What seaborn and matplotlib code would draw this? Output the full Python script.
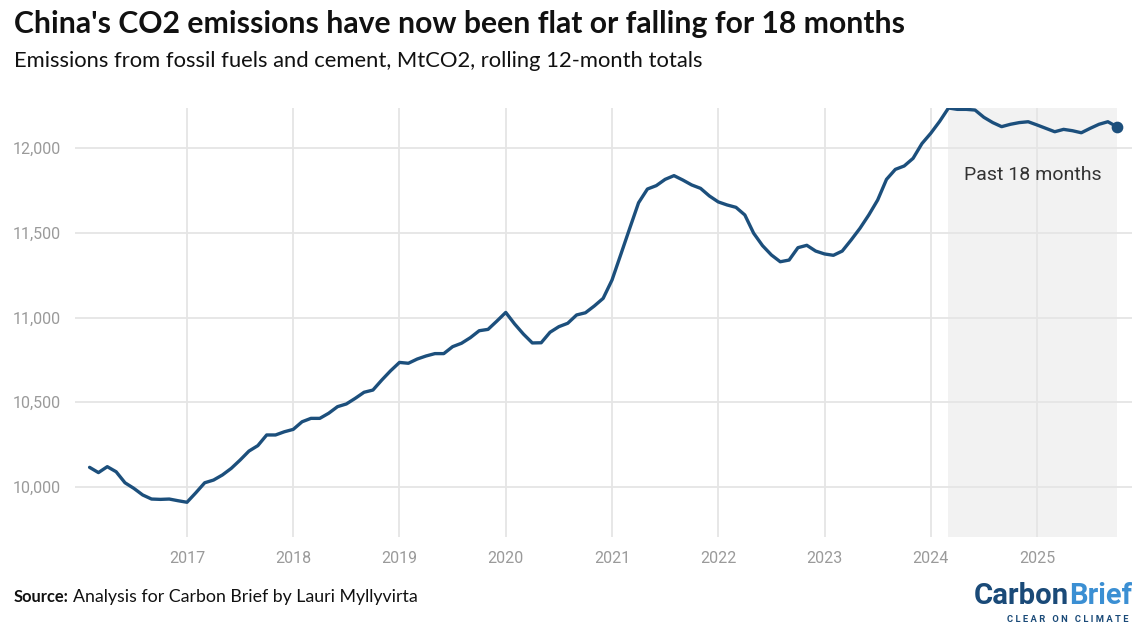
import numpy as np
import pandas as pd
import matplotlib
matplotlib.use("Agg")
import matplotlib.pyplot as plt
import seaborn as sns

# ---- data ----
start_month = "2016-02"
emissions = [
    # 2016 (Feb-Dec)
    10116, 10085, 10120, 10090, 10025, 9992, 9953, 9929, 9927, 9929, 9919,
    # 2017
    9910, 9966, 10025, 10041, 10071, 10110, 10159, 10212, 10244, 10307, 10307, 10326,
    # 2018
    10340, 10385, 10405, 10405, 10435, 10474, 10490, 10523, 10559, 10572, 10631, 10686,
    # 2019
    10735, 10730, 10755, 10773, 10787, 10787, 10828, 10848, 10881, 10922, 10930, 10979,
    # 2020
    11030, 10962, 10902, 10850, 10851, 10913, 10946, 10966, 11015, 11028, 11068, 11113,
    # 2021
    11221, 11373, 11526, 11677, 11758, 11778, 11815, 11837, 11811, 11782, 11762, 11717,
    # 2022
    11682, 11664, 11650, 11605, 11497, 11424, 11369, 11329, 11339, 11412, 11426, 11392,
    # 2023
    11375, 11367, 11392, 11457, 11526, 11605, 11693, 11815, 11874, 11894, 11939, 12026,
    # 2024
    12087, 12157, 12236, 12228, 12228, 12224, 12181, 12150, 12126, 12140, 12150, 12155,
    # 2025 (Jan-Oct)
    12136, 12116, 12096, 12110, 12102, 12090, 12116, 12140, 12155, 12126,
]
x_ticks = [2017, 2018, 2019, 2020, 2021, 2022, 2023, 2024, 2025]
y_ticks = [10000, 10500, 11000, 11500, 12000]
shade_start = "2024-03"
shade_end = "2025-10"
shade_label = "Past 18 months"

title = "China's CO2 emissions have now been flat or falling for 18 months"
subtitle = "Emissions from fossil fuels and cement, MtCO2, rolling 12-month totals"

# ---- frame ----
dates = pd.date_range(start_month, periods=len(emissions), freq="MS")
def dec_year(d):
    return d.year + (d.month - 1) / 12.0
df = pd.DataFrame({"t": [dec_year(d) for d in dates], "v": emissions})
s0 = dec_year(pd.Timestamp(shade_start))
s1 = dec_year(pd.Timestamp(shade_end))

sns.set_theme(style="white")
plt.rcParams["font.family"] = ["Roboto", "DejaVu Sans"]

W, H = 1143, 632
fig = plt.figure(figsize=(W / 100, H / 100), dpi=100)
ax = fig.add_axes([0.0656, 0.1503, 0.9248, 0.6788])

line_color = "#1c4f7c"
ax.axvspan(s0, s1, color="#f2f2f2", zorder=0, lw=0)
sns.lineplot(data=df, x="t", y="v", ax=ax, color=line_color, linewidth=2.4, zorder=3)
ax.scatter([df["t"].iloc[-1]], [df["v"].iloc[-1]], s=55, color=line_color, zorder=4)

ax.set_xlim(2015.946, 2025.894)
ax.set_ylim(9705, 12236)
ax.set_xticks(x_ticks)
ax.set_xticklabels([str(x) for x in x_ticks])
ax.set_yticks(y_ticks)
ax.set_yticklabels([f"{y:,}" for y in y_ticks])
ax.grid(True, color="#e5e5e5", linewidth=1.3, zorder=1)
ax.set_axisbelow(True)
for sp in ax.spines.values():
    sp.set_visible(False)
ax.tick_params(axis="both", length=0, labelsize=11.5, labelcolor="#9a9a9a")
ax.tick_params(axis="x", pad=10)
ax.tick_params(axis="y", pad=10)
ax.set_xlabel("")
ax.set_ylabel("")

ax.text((s0 + s1) / 2, 11840, shade_label, ha="center", va="center",
        fontsize=14, color="#333333")

def px(x, y):
    return x / W, 1 - y / H

fig.canvas.draw()
renderer = fig.canvas.get_renderer()

def fit_text(x, y, s, width_px, **kw):
    t = fig.text(*px(x, y), s, **kw)
    fs = t.get_fontsize()
    bb = t.get_window_extent(renderer)
    t.set_fontsize(fs * width_px / bb.width)
    return t

# titles
fit_text(14, 24, title, 889, ha="left", va="center", fontsize=21,
         fontweight="bold", color="#111111", family=["Lato", "DejaVu Sans"])
fit_text(14, 61, subtitle, 693, ha="left", va="center", fontsize=15,
         color="#111111", family=["Lato", "DejaVu Sans"])

# source
src_b = fit_text(14, 597, "Source:", 55, ha="left", va="center", fontsize=11.5,
                 fontweight="bold", color="#111111", family=["Lato", "DejaVu Sans"])
fit_text(73, 597, "Analysis for Carbon Brief by Lauri Myllyvirta", 346, ha="left",
         va="center", fontsize=11.5, color="#111111", family=["Lato", "DejaVu Sans"])

# logo
fit_text(974, 596, "Carbon", 95, ha="left", va="center", fontsize=25,
         fontweight="bold", color="#1a4a78", family=["Roboto", "DejaVu Sans"])
fit_text(1069, 596, "Brief", 63, ha="left", va="center", fontsize=25,
         fontweight="bold", color="#3b8fd3", family=["Roboto", "DejaVu Sans"])
fit_text(1007, 619, "C L E A R   O N   C L I M A T E", 122, ha="left",
         va="center", fontsize=5, fontweight="bold", color="#1a4a78")

fig.savefig("out.png", dpi=100)
